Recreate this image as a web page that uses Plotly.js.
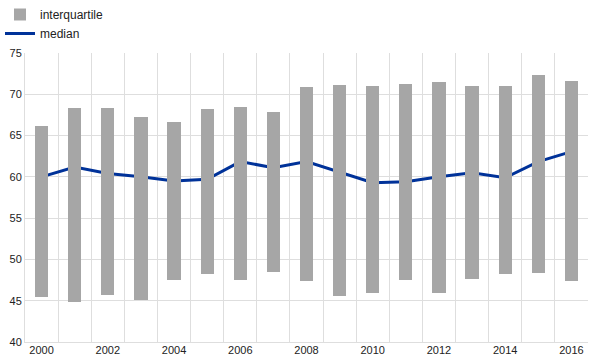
<!DOCTYPE html>
<html>
<head>
<meta charset="utf-8">
<script src="https://cdn.plot.ly/plotly-3.0.1.min.js"></script>
<style>html,body{margin:0;padding:0;background:#fff;}#chart{width:592px;height:364px;}</style>
</head>
<body>
<div id="chart"></div>
<script>
const years = [2000,2001,2002,2003,2004,2005,2006,2007,2008,2009,2010,2011,2012,2013,2014,2015,2016];
const q1 = [45.4,44.9,45.7,45.05,47.55,48.2,47.55,48.5,47.35,45.6,45.9,47.45,45.97,47.6,48.2,48.3,47.35];
const q3 = [66.1,68.3,68.4,67.25,66.7,68.2,68.5,67.9,70.85,71.15,71.05,71.3,71.5,70.95,71.05,72.35,71.6];
const median = [60.0,61.2,60.4,60.0,59.5,59.7,61.85,61.1,61.85,60.6,59.3,59.4,60.0,60.5,59.9,61.85,63.05];
const tickYears = [2000,2002,2004,2006,2008,2010,2012,2014,2016];

const iqr = q3.map((v,i)=>v-q1[i]);

const font = {family:'"Liberation Sans", Arial, sans-serif', size:11, color:'#222'};
const legFont = {family:'"Liberation Sans", Arial, sans-serif', size:12, color:'#222'};
const grid = '#dedede';

const traces = [
  {type:'scatter', mode:'lines', name:'median', x:years, y:median, xaxis:'x', yaxis:'y',
   line:{color:'#003299', width:3}, legendrank:2},
  {type:'bar', name:'interquartile', x:years, y:iqr, base:q1, width:0.4, xaxis:'x2', yaxis:'y',
   marker:{color:'#a6a6a6', line:{width:0}}, legendrank:1}
];

const layout = {
  width:592, height:364,
  margin:{l:25, r:4, t:53, b:22, autoexpand:false},
  paper_bgcolor:'#fff', plot_bgcolor:'#fff',
  font:font,
  showlegend:true,
  legend:{xref:'container', yref:'container', x:0, y:1.03, xanchor:'left', yanchor:'top',
          bgcolor:'rgba(0,0,0,0)', font:legFont, itemwidth:30, tracegroupgap:0},
  xaxis:{range:[1999.5,2016.5], tickmode:'linear', tick0:1999.5, dtick:1,
         showticklabels:false, showgrid:true, gridcolor:grid, gridwidth:1,
         ticks:'', showline:true, linecolor:grid, linewidth:1,
         zeroline:false, fixedrange:true},
  xaxis2:{overlaying:'x', side:'bottom', range:[1999.5,2016.5], tickmode:'array',
          tickvals:tickYears, ticktext:tickYears.map(String), showgrid:false, ticks:'',
          showline:false, zeroline:false, fixedrange:true, tickfont:font},
  yaxis:{range:[40,75], dtick:5, tick0:40, showgrid:true, gridcolor:grid, gridwidth:1,
         showline:true, linecolor:grid, ticks:'', zeroline:false, tickfont:font, fixedrange:true},
  bargap:0
};

Plotly.newPlot('chart', traces, layout, {displayModeBar:false, staticPlot:true});
</script>
</body>
</html>
